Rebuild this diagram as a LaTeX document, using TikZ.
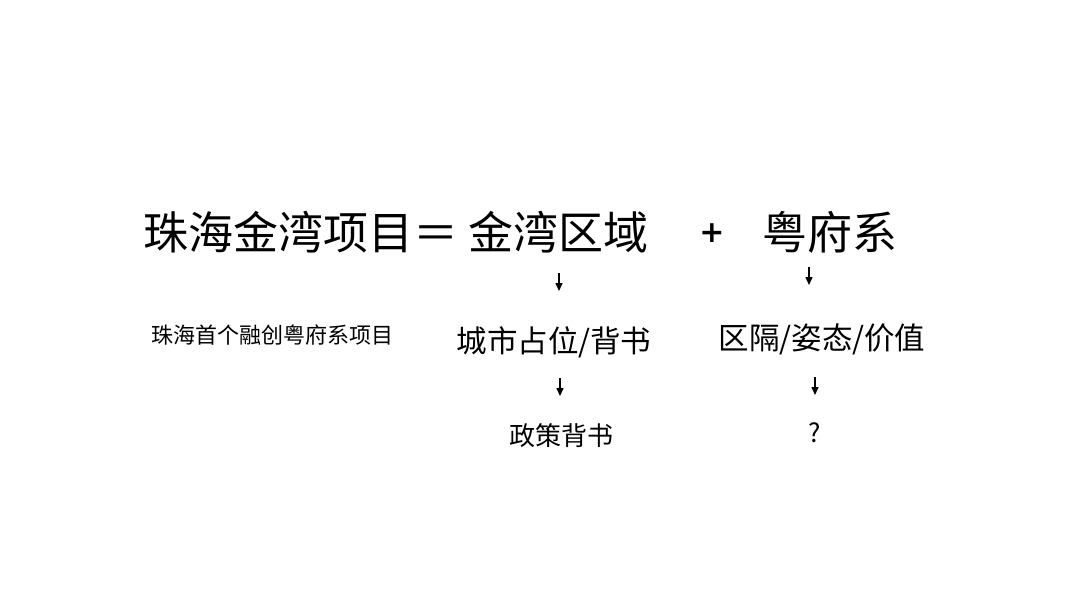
\documentclass[tikz,border=0pt]{standalone}
\usepackage{fontspec}
\newfontfamily\cjk{Noto Sans CJK SC}
\newfontfamily\plusfont{DejaVu Sans}
\usetikzlibrary{arrows.meta}
\tikzset{
  title/.style={font=\cjk\fontsize{45}{50}\selectfont, inner sep=0pt, anchor=center},
  sub/.style={font=\cjk\fontsize{30.5}{35}\selectfont, inner sep=0pt, anchor=center},
  small/.style={font=\cjk\fontsize{22}{26}\selectfont, inner sep=0pt, anchor=center},
  pol/.style={font=\cjk\fontsize{26}{30}\selectfont, inner sep=0pt, anchor=center},
  darr/.style={-{Triangle[length=8pt,width=7pt]}, line width=1.5pt}
}
\begin{document}
\begin{tikzpicture}[x=1pt,y=-1pt]
\useasboundingbox (0,0) rectangle (1080,608);
\fill[white] (0,0) rectangle (1080,608);
\node[title] (t1) at (301,232) {珠海金湾项目＝};
\node[title] (t2) at (558,232) {金湾区域};
\node[font=\plusfont\bfseries\fontsize{30}{34}\selectfont, inner sep=0pt] (plus) at (712,233) {+};
\node[title] (t3) at (830,232) {粤府系};
\node[small] (l1) at (272,335) {珠海首个融创粤府系项目};
\node[sub] (c1) at (554,342) {城市占位/背书};
\node[sub] (c2) at (822,339) {区隔/姿态/价值};
\node[pol] (d1) at (561,436) {政策背书};
\node[pol] (d2) at (815,433) {?};
\coordinate (a1s) at (559,273); \coordinate (a1e) at (559,291);
\coordinate (a2s) at (809,267); \coordinate (a2e) at (809,285);
\coordinate (a3s) at (560,378); \coordinate (a3e) at (560,396);
\coordinate (a4s) at (815,377); \coordinate (a4e) at (815,395);
\draw[darr] (a1s) -- (a1e);
\draw[darr] (a2s) -- (a2e);
\draw[darr] (a3s) -- (a3e);
\draw[darr] (a4s) -- (a4e);
\end{tikzpicture}
\end{document}
